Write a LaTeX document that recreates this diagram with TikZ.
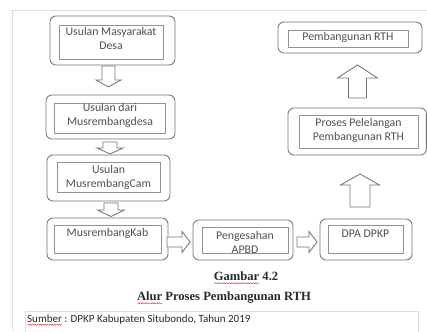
\documentclass[tikz,border=0pt]{standalone}
\usepackage{fontspec}
\setmainfont{Liberation Serif}
\newfontfamily\calib{Carlito}
\usetikzlibrary{fit,decorations.pathmorphing}
\definecolor{linec}{HTML}{767676}
\definecolor{innerc}{HTML}{929292}
\definecolor{txtc}{HTML}{505050}
\definecolor{capc}{HTML}{2A2A2A}
\definecolor{pagec}{HTML}{DCDCDC}
\definecolor{wavec}{HTML}{D04040}
\newsavebox\wavebox
\newcommand\rwave[1]{\sbox\wavebox{#1}\rlap{\raisebox{-2.6pt}{\tikz[x=1pt,y=1pt,baseline=0pt]\draw[wavec,line width=0.45pt,decorate,decoration={snake,amplitude=0.6pt,segment length=2.4pt}] (0,0) -- (\wd\wavebox,0);}}\usebox\wavebox}
\newcommand\vblockarrow[6]{% cx, shaft end, head base, tip, shaft half, head half
  \draw[barrow] ({#1-#5},#2) -- ({#1+#5},#2) -- ({#1+#5},#3) -- ({#1+#6},#3) -- (#1,#4)
    -- ({#1-#6},#3) -- ({#1-#5},#3) -- cycle;}
\newcommand\hblockarrow[6]{% cy, shaft end, head base, tip, shaft half, head half
  \draw[barrow] (#2,{#1-#5}) -- (#3,{#1-#5}) -- (#3,{#1-#6}) -- (#4,#1) -- (#3,{#1+#6})
    -- (#3,{#1+#5}) -- (#2,{#1+#5}) -- cycle;}
\tikzset{
  outerbox/.style={draw=linec, line width=0.85pt, rounded corners=6pt, inner sep=0pt},
  innerbox/.style={draw=innerc, line width=0.6pt, inner sep=0pt},
  txt/.style={font=\calib\fontsize{11.8}{14}\selectfont, text=txtc, align=center, inner sep=0pt},
  barrow/.style={draw=linec, line width=0.85pt, fill=white, line join=miter},
  pageline/.style={draw=pagec, line width=0.8pt},
  captxt/.style={font=\bfseries\fontsize{12.6}{14}\selectfont, text=capc, inner sep=0pt},
  srctxt/.style={font=\calib\fontsize{11}{13}\selectfont, text=capc, inner sep=0pt, anchor=west}
}
\begin{document}
\begin{tikzpicture}[x=1pt, y=-1pt]
\useasboundingbox (0,0) rectangle (427,331);
\clip (0,0) rectangle (427,331);
\fill[white] (0,0) rectangle (427,331);
% page lines
\draw[pageline] (10,10) -- (427,10);
\draw[pageline] (12,10) -- (12,331);
% boxes
\node[outerbox, fit={(50,16)(175,65)}] (b1) {};
\node[innerbox, fit={(59,25)(163,59)}] (b1i) {};
\node[txt] (b1t) at (111,38.5) {Usulan Masyarakat\\Desa};

\node[outerbox, fit={(46,95)(175,139)}] (b2) {};
\node[innerbox, fit={(54,103)(165,133)}] (b2i) {};
\node[txt] (b2t) at (110,115) {Usulan dari\\Musrembangdesa};

\node[outerbox, fit={(47,155)(170,201)}] (b3) {};
\node[innerbox, fit={(57,162)(160,192)}] (b3i) {};
\node[txt] (b3t) at (108.5,177.5) {Usulan\\MusrembangCam};

\node[outerbox, fit={(47,218)(168,260)}] (b4) {};
\node[innerbox, fit={(54,225)(161,253)}] (b4i) {};
\node[txt] (b4t) at (107.5,233.5) {MusrembangKab};

\node[outerbox, fit={(193,220)(293,260)}] (b5) {};
\node[innerbox, fit={(202,227)(288,253)}] (b5i) {};
\node[txt] (b5t) at (245,242) {Pengesahan\\APBD};

\node[outerbox, fit={(320,219)(412,260)}] (b6) {};
\node[innerbox, fit={(328,225)(403,253)}] (b6i) {};
\node[txt] (b6t) at (365.5,233.5) {DPA DPKP};

\node[outerbox, fit={(288,108)(426.4,155)}] (b7) {};
\node[innerbox, fit={(299,115)(418,148)}] (b7i) {};
\node[txt] (b7t) at (358.5,130) {Proses Pelelangan\\Pembangunan RTH};

\node[outerbox, fit={(278,22)(422,53)}] (b8) {};
\node[innerbox, fit={(288,30)(408,47)}] (b8i) {};
\node[txt] (b8t) at (348,37.5) {Pembangunan RTH};

% block arrows
\vblockarrow{108.5}{66}{80}{87}{6.5}{12.5}
\vblockarrow{110}{142}{148}{154}{7}{13}
\vblockarrow{111}{203}{210}{216.5}{7}{13.5}
\hblockarrow{242}{167}{182}{190}{5}{10.5}
\hblockarrow{242}{297}{309}{317}{5}{10.5}
\vblockarrow{360}{207}{185}{174}{10}{19.5}
\vblockarrow{357.5}{98}{78}{65}{9}{20}

% caption
\node[captxt] (cap1) at (246,278) {\rwave{Gambar} 4.2};
\node[captxt] (cap2) at (224,298) {\rwave{Alur} Proses Pembangunan RTH};
% source box
\draw[pageline] (25,311) rectangle (418,345);
\node[srctxt] (src) at (27,320) {\rwave{Sumber} : DPKP Kabupaten Situbondo, Tahun 2019};
\end{tikzpicture}
\end{document}
